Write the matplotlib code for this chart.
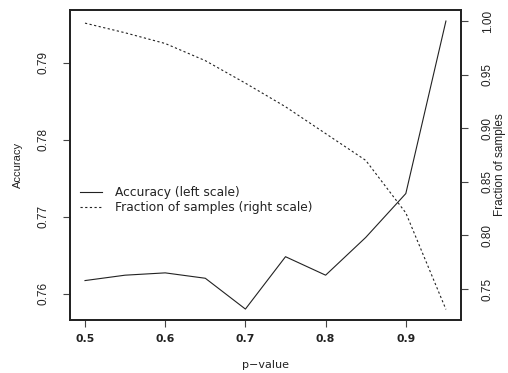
import matplotlib
matplotlib.use('Agg')
import matplotlib.pyplot as plt
from matplotlib import font_manager

# values
p_value = [0.5, 0.55, 0.6, 0.65, 0.7, 0.75, 0.8, 0.85, 0.9, 0.95]
accuracy = [0.7617, 0.7624, 0.7627, 0.7620, 0.7580, 0.7648, 0.7624, 0.7673, 0.7730, 0.7954]
fraction = [0.998, 0.989, 0.979, 0.963, 0.942, 0.920, 0.895, 0.870, 0.821, 0.731]

x_ticks = [0.5, 0.6, 0.7, 0.8, 0.9]
acc_ticks = [0.76, 0.77, 0.78, 0.79]
frac_ticks = [0.75, 0.80, 0.85, 0.90, 0.95, 1.00]

names = set(f.name for f in font_manager.fontManager.ttflist)
narrow = 'Liberation Sans Narrow' if 'Liberation Sans Narrow' in names else 'Liberation Sans'
wide = 'DejaVu Sans'
ink = '#222222'

fig = plt.figure(figsize=(5.08, 3.73), dpi=100)
ax = fig.add_axes([0.1378, 0.1421, 0.7692, 0.8324])
ax2 = ax.twinx()

l1, = ax.plot(p_value, accuracy, color=ink, lw=0.8, ls='-')
l2, = ax2.plot(p_value, fraction, color=ink, lw=0.8, ls=(0, (2.0, 2.2)))

ax.set_xlim(0.4813, 0.9685)
ax.set_ylim(0.75658, 0.7969)
ax2.set_ylim(0.7211, 1.0107)

ax.set_xticks(x_ticks)
ax.set_xticklabels(['%.1f' % v for v in x_ticks], family=wide, fontweight='bold', fontsize=7.8)
ax.set_yticks(acc_ticks)
ax.set_yticklabels(['%.2f' % v for v in acc_ticks], family=narrow, fontsize=8.5,
                   rotation=90, va='center')
ax2.set_yticks(frac_ticks)
ax2.set_yticklabels(['%.2f' % v for v in frac_ticks], family=narrow, fontsize=8.5,
                    rotation=90, va='center')

ax.tick_params(axis='x', length=5, width=0.8, color='#444444', pad=5, labelcolor=ink)
ax.tick_params(axis='y', length=5, width=0.8, color='#444444', pad=10, labelcolor=ink)
ax2.tick_params(axis='y', length=5, width=0.8, color='#444444', pad=10, labelcolor=ink)

for a in (ax, ax2):
    for s in a.spines.values():
        s.set_linewidth(1.3)
        s.set_color(ink)

ax.set_xlabel('p\u2212value', family=wide, fontsize=8, color=ink)
ax.xaxis.set_label_coords(0.5, -0.13)
ax.set_ylabel('Accuracy', family=narrow, fontsize=8, color=ink)
ax.yaxis.set_label_coords(-0.133, 0.5)
ax.yaxis.label.set_va('center')
ax2.set_ylabel('Fraction of samples', family=narrow, fontsize=8.5, color=ink)
ax2.yaxis.set_label_coords(1.10, 0.5)
ax2.yaxis.label.set_va('center')

leg = ax.legend([l1, l2], ['Accuracy (left scale)', 'Fraction of samples (right scale)'],
                loc='center left', bbox_to_anchor=(0.025, 0.386), frameon=False,
                borderaxespad=0, borderpad=0, handlelength=1.8, handletextpad=1.1,
                labelspacing=0.12, prop={'family': wide, 'size': 8.8})
for t in leg.get_texts():
    t.set_color(ink)

fig.savefig('out.png', dpi=100)
